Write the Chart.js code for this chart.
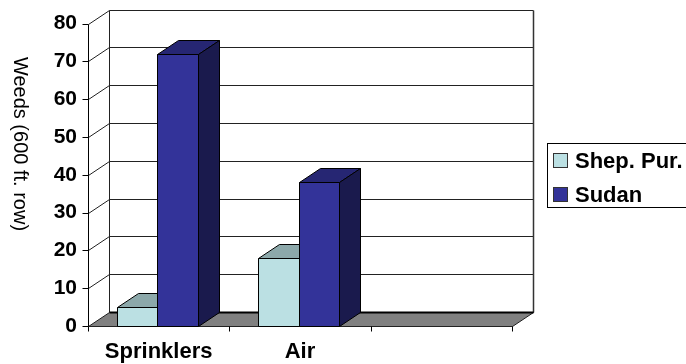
<!DOCTYPE html>
<html>
<head>
<meta charset="utf-8">
<script src="https://cdn.jsdelivr.net/npm/chart.js@4.4.1/dist/chart.umd.min.js"></script>
<style>
  html, body { margin: 0; padding: 0; background: #fff; }
  #wrap { width: 686px; height: 364px; }
</style>
</head>
<body>
<div id="wrap"><canvas id="myChart" width="686" height="364"></canvas></div>
<script>
const categories = ["Sprinklers", "Air", ""]
const shepPur = [5, 18, null]
const sudan = [72, 38, null]
const seriesNames = ["Shep. Pur.", "Sudan"]
const yTitle = "Weeds (600 ft. row)"
const yMax = 80
const yStep = 10

// depth of the fake 3d box
const DX = 21
const DY = 14

const faces = [
  { front: "#bbe0e3", top: "#8ca8aa", side: "#5e7b7d" },
  { front: "#333399", top: "#262673", side: "#1a1a4d" }
]

function line(ctx, pts, color, w) {
  ctx.beginPath()
  ctx.moveTo(pts[0][0], pts[0][1])
  for (let i = 1; i < pts.length; i++) ctx.lineTo(pts[i][0], pts[i][1])
  ctx.strokeStyle = color
  ctx.lineWidth = w || 1
  ctx.stroke()
}

function poly(ctx, pts, fill, stroke) {
  ctx.beginPath()
  ctx.moveTo(pts[0][0], pts[0][1])
  for (let i = 1; i < pts.length; i++) ctx.lineTo(pts[i][0], pts[i][1])
  ctx.closePath()
  ctx.fillStyle = fill
  ctx.fill()
  ctx.strokeStyle = stroke
  ctx.lineWidth = 1
  ctx.stroke()
}

const box3d = {
  id: "box3d",
  beforeDatasetsDraw(chart) {
    const ctx = chart.ctx
    const a = chart.chartArea
    const y = chart.scales.y
    const L = Math.round(a.left) + 0.5
    const R = Math.round(a.right) + 0.5
    const B = Math.round(a.bottom) + 0.5
    ctx.save()
    // grid on side wall + back wall
    for (let v = yStep; v <= yMax; v += yStep) {
      const py = Math.round(y.getPixelForValue(v)) + 0.5
      line(ctx, [[L, py], [L + DX, py - DY], [R + DX, py - DY]], "#222", 1)
    }
    const T = Math.round(y.getPixelForValue(yMax)) + 0.5
    line(ctx, [[L + DX, T - DY], [L + DX, B - DY]], "#222", 1)
    line(ctx, [[R + DX, T - DY], [R + DX, B - DY]], "#333", 1.5)
    // front value axis with tick marks
    line(ctx, [[L, T], [L, B]], "#000", 1)
    for (let v = 0; v <= yMax; v += yStep) {
      const py = Math.round(y.getPixelForValue(v)) + 0.5
      line(ctx, [[L - 6, py], [L, py]], "#000", 1)
    }
    // floor
    poly(ctx, [[L, B], [R, B], [R + DX, B - DY], [L + DX, B - DY]], "#808080", "#222")
    line(ctx, [[L + DX, B - DY], [R + DX, B - DY]], "#000", 2)
    line(ctx, [[L, B], [R, B]], "#222", 1)
    // category ticks
    const n = categories.length
    for (let i = 0; i <= n; i++) {
      const px = Math.round(a.left + (a.right - a.left) * i / n) + 0.5
      line(ctx, [[px, B], [px, B + 5]], "#000", 1)
    }
    ctx.restore()
  },
  afterDatasetsDraw(chart) {
    const ctx = chart.ctx
    ctx.save()
    chart.data.datasets.forEach((ds, di) => {
      const meta = chart.getDatasetMeta(di)
      const f = faces[di]
      meta.data.forEach((bar, i) => {
        if (ds.data[i] === null) return
        const p = bar.getProps(["x", "y", "base", "width"], true)
        const x0 = Math.round(p.x - p.width / 2 - 1.5) + 0.5
        const x1 = Math.round(p.x + p.width / 2 - 1.5) + 0.5
        const yt = Math.round(p.y) + 0.5
        const yb = Math.round(p.base) + 0.5
        poly(ctx, [[x0, yt], [x1, yt], [x1 + DX, yt - DY], [x0 + DX, yt - DY]], f.top, "#000")
        poly(ctx, [[x1, yt], [x1 + DX, yt - DY], [x1 + DX, yb - DY], [x1, yb]], f.side, "#000")
        poly(ctx, [[x0, yt], [x1, yt], [x1, yb], [x0, yb]], f.front, "#000")
      })
    })
    ctx.restore()
  },
  afterDraw(chart) {
    const ctx = chart.ctx
    ctx.save()
    // axis title, reads top to bottom
    ctx.translate(20, 144)
    ctx.rotate(Math.PI / 2)
    ctx.font = "20px 'Liberation Sans', Arial, sans-serif"
    ctx.fillStyle = "#000"
    ctx.textAlign = "center"
    ctx.textBaseline = "middle"
    ctx.fillText(yTitle, 0, 0)
    ctx.restore()

    // legend box
    ctx.save()
    ctx.strokeStyle = "#000"
    ctx.lineWidth = 1
    ctx.strokeRect(547.5, 143.5, 150, 64)
    ctx.font = "bold 22px 'Liberation Sans', Arial, sans-serif"
    ctx.textAlign = "left"
    ctx.textBaseline = "alphabetic"
    seriesNames.forEach((name, i) => {
      const sy = 153 + i * 34
      ctx.fillStyle = faces[i].front
      ctx.fillRect(553.5, sy + 0.5, 14, 14)
      ctx.strokeStyle = "#333"
      ctx.strokeRect(553.5, sy + 0.5, 14, 14)
      ctx.fillStyle = "#000"
      ctx.fillText(name, 575, sy + 15)
    })
    ctx.restore()
  }
}

let ctx = document.getElementById("myChart")
let chart = new Chart(ctx, {
  type: "bar",
  data: {
    labels: categories,
    datasets: [
      { label: seriesNames[0], data: shepPur, backgroundColor: faces[0].front, borderWidth: 0 },
      { label: seriesNames[1], data: sudan, backgroundColor: faces[1].front, borderWidth: 0 }
    ]
  },
  options: {
    responsive: false,
    animation: false,
    categoryPercentage: 0.575,
    barPercentage: 1.0,
    layout: {
      padding: { left: 0, right: 174, top: 21, bottom: 0 }
    },
    scales: {
      x: {
        grid: { display: false, drawTicks: false },
        border: { display: false },
        ticks: {
          color: "#000",
          padding: 13,
          maxRotation: 0,
          font: { family: "'Liberation Sans', Arial, sans-serif", size: 22, weight: "bold" }
        },
        afterFit: (s) => { s.height = 38 }
      },
      y: {
        min: 0,
        max: yMax,
        grid: { display: false, drawTicks: false },
        border: { display: false },
        ticks: {
          stepSize: yStep,
          color: "#000",
          padding: 11,
          font: { family: "'Liberation Sans', Arial, sans-serif", size: 21, weight: "bold" }
        },
        afterFit: (s) => { s.width = 88 }
      }
    },
    plugins: {
      legend: { display: false },
      tooltip: { enabled: false }
    }
  },
  plugins: [box3d]
})
</script>
</body>
</html>
